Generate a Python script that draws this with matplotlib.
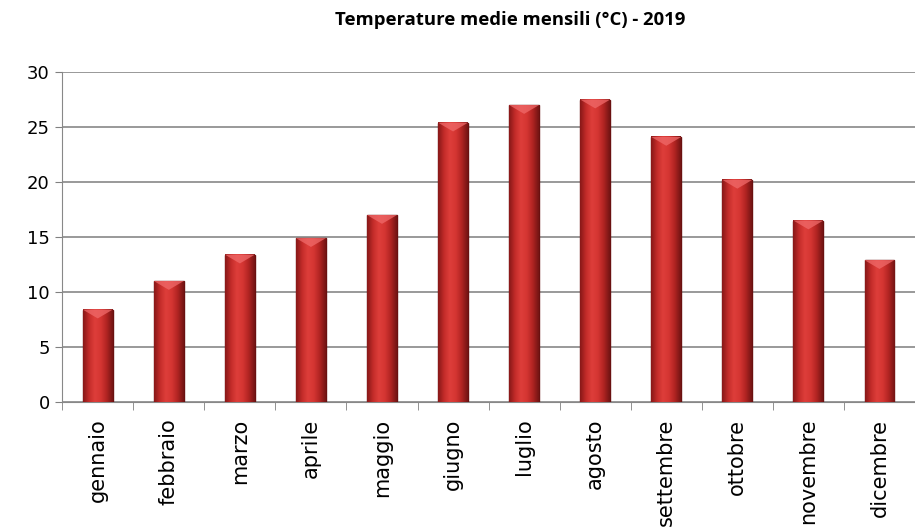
import matplotlib.pyplot as plt
import numpy as np
from matplotlib.colors import LinearSegmentedColormap

mesi = ["gennaio", "febbraio", "marzo", "aprile", "maggio", "giugno",
        "luglio", "agosto", "settembre", "ottobre", "novembre", "dicembre"]
temperature = [8.4, 11.0, 13.4, 14.9, 17.0, 25.4, 27.0, 27.5, 24.1, 20.2, 16.5, 12.9]
y_ticks = [0, 5, 10, 15, 20, 25, 30]

fig = plt.figure(figsize=(9.15, 5.3), dpi=100)
ax = fig.add_axes([0.068, 0.2415, 0.932, 0.6225])

x = np.arange(len(mesi))
larghezza = 0.42
barre = ax.bar(x, temperature, width=larghezza, color="#c8302e", zorder=3)

# sfumatura orizzontale: bordi scuri, centro chiaro
cmap = LinearSegmentedColormap.from_list("rosso", ["#881818", "#c42c2a", "#de3e3a", "#d43532", "#b02422", "#741414"])
grad = np.linspace(0, 1, 64).reshape(1, -1)
for b in barre:
    x0, y0 = b.get_x(), b.get_y()
    w, h = b.get_width(), b.get_height()
    ax.imshow(grad, cmap=cmap, aspect="auto", extent=(x0, x0 + w, y0, y0 + h),
              zorder=4, interpolation="bicubic")
    # piccolo riflesso in cima
    ax.fill([x0, x0 + w, x0 + w * 0.5], [y0 + h, y0 + h, y0 + h - 0.8],
            color="#f06a6a", alpha=0.75, zorder=5, lw=0)
    b.set_edgecolor("#6a1010")

ax.set_xlim(-0.5, len(mesi) - 0.5)
ax.set_ylim(0, 30)
ax.set_yticks(y_ticks)
ax.tick_params(axis="y", labelsize=13, length=5, color="#808080", direction="out", pad=4)
ax.set_xticks(x)
ax.set_xticklabels(mesi, rotation=90, fontsize=15)
ax.tick_params(axis="x", which="major", length=0, pad=12)
ax.set_xticks(np.arange(len(mesi) + 1) - 0.5, minor=True)
ax.tick_params(axis="x", which="minor", length=6, color="#808080", direction="out")

ax.grid(axis="y", color="#888888", lw=1.2, zorder=0)
for s in ["top", "right"]:
    ax.spines[s].set_visible(False)
ax.spines["left"].set_color("#888888")
ax.spines["bottom"].set_color("#888888")

fig.text(0.558, 0.962, "Temperature medie mensili (°C) - 2019", ha="center", va="center",
         fontsize=13.3, fontweight="bold", family="Open Sans")

fig.savefig("out.png", dpi=100)
